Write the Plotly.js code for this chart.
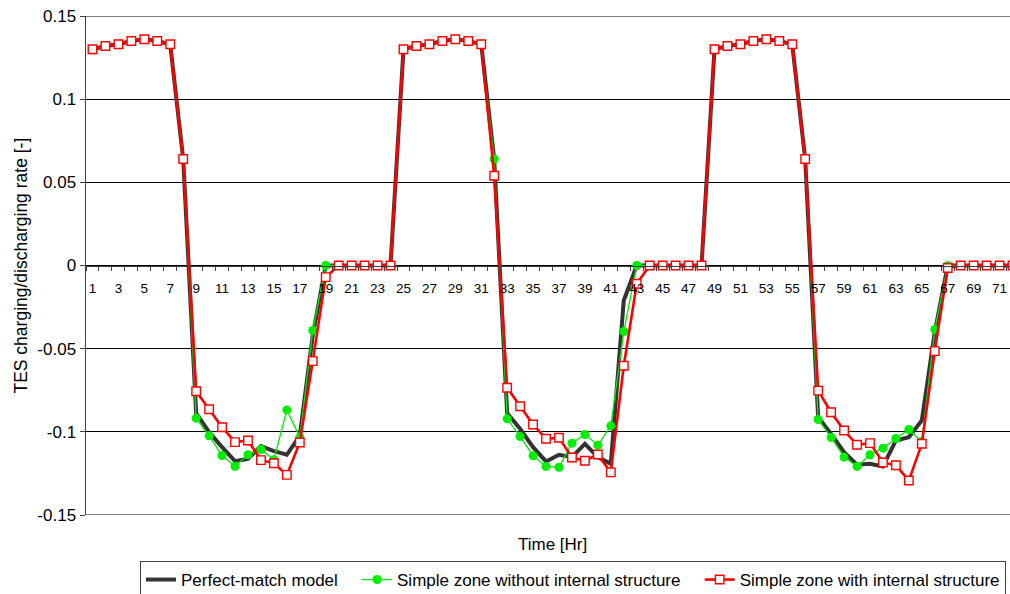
<!DOCTYPE html>
<html>
<head>
<meta charset="utf-8">
<script src="https://cdn.plot.ly/plotly-3.0.1.min.js"></script>
<style>
html,body{margin:0;padding:0;overflow:hidden;background:#fff;}
#chart{width:1030px;height:594px;}
</style>
</head>
<body>
<div id="chart"></div>
<script>
// Hours (categories)
const hours = [1,2,3,4,5,6,7,8,9,10,11,12,13,14,15,16,17,18,19,20,21,22,23,24,
  25,26,27,28,29,30,31,32,33,34,35,36,37,38,39,40,41,42,43,44,45,46,47,48,
  49,50,51,52,53,54,55,56,57,58,59,60,61,62,63,64,65,66,67,68,69,70,71,72];

const tickLabels = [1,3,5,7,9,11,13,15,17,19,21,23,25,27,29,31,33,35,37,39,41,43,45,47,
  49,51,53,55,57,59,61,63,65,67,69,71];

const perfectMatch = [
  0.130,0.132,0.133,0.135,0.136,0.135,0.133,0.064,
  -0.0888,-0.1002,-0.1092,-0.1176,-0.1162,-0.1086,-0.1116,-0.1138,-0.1022,-0.0420,
  0,0,0,0,0,0,
  0.130,0.132,0.133,0.135,0.136,0.135,0.133,0.064,
  -0.0888,-0.0982,-0.1092,-0.1178,-0.1138,-0.1152,-0.1072,-0.1152,-0.1192,-0.0210,
  0,0,0,0,0,0,
  0.130,0.132,0.133,0.135,0.136,0.135,0.133,0.064,
  -0.0912,-0.1012,-0.1122,-0.1198,-0.1192,-0.1208,-0.1052,-0.1032,-0.0932,-0.0400,
  0,0,0,0,0,0];

const zoneWithout = [
  0.130,0.132,0.133,0.135,0.136,0.135,0.133,0.064,
  -0.0918,-0.1024,-0.1142,-0.1207,-0.1138,-0.1106,-0.1168,-0.0868,-0.1032,-0.0391,
  0,0,0,0,0,0,
  0.130,0.132,0.133,0.135,0.136,0.135,0.133,0.064,
  -0.0922,-0.1028,-0.1144,-0.1208,-0.1213,-0.1068,-0.1016,-0.1080,-0.0964,-0.0397,
  0,0,0,0,0,0,
  0.130,0.132,0.133,0.135,0.136,0.135,0.133,0.064,
  -0.0926,-0.1034,-0.1152,-0.1208,-0.1138,-0.1098,-0.1040,-0.0986,-0.1060,-0.0385,
  0,0,0,0,0,0];

const zoneWith = [
  0.130,0.132,0.133,0.135,0.136,0.135,0.133,0.064,
  -0.0756,-0.0864,-0.0972,-0.1062,-0.1052,-0.1170,-0.1189,-0.1259,-0.1064,-0.0575,
  -0.007,0,0,0,0,0,
  0.130,0.132,0.133,0.135,0.136,0.135,0.133,0.054,
  -0.0735,-0.0846,-0.0956,-0.1042,-0.1036,-0.1154,-0.1174,-0.1136,-0.1244,-0.0603,
  -0.011,0,0,0,0,0,
  0.130,0.132,0.133,0.135,0.136,0.135,0.133,0.064,
  -0.0752,-0.0882,-0.0992,-0.1078,-0.1068,-0.1184,-0.1201,-0.1293,-0.1072,-0.0515,
  -0.0015,0,0,0,0,0];

const yTicks = [-0.15,-0.1,-0.05,0,0.05,0.1,0.15];
const yTickText = ['-0.15','-0.1','-0.05','0','0.05','0.1','0.15'];

const seriesNames = ['Perfect-match model','Simple zone without internal structure','Simple zone with internal structure'];

const FONT = '"Liberation Sans", Arial, sans-serif';
const PAD = '\u00a0\u00a0\u00a0'; // legend entry spacing

const traces = [
  {x: hours, y: perfectMatch, name: seriesNames[0] + PAD, type: 'scatter', mode: 'lines',
   line: {color: '#333333', width: 4}},
  {x: hours, y: zoneWithout, name: seriesNames[1] + PAD, type: 'scatter', mode: 'lines+markers',
   line: {color: '#00ee00', width: 1.3}, marker: {symbol: 'circle', size: 9, color: '#00ee00'}},
  {x: hours, y: zoneWith, name: seriesNames[2], type: 'scatter', mode: 'lines+markers',
   line: {color: '#ff0000', width: 2.6},
   marker: {symbol: 'square', size: 8.5, color: '#ffffff', line: {color: '#ff0000', width: 1.4}}}
];

// grid lines at the axis range edges (Plotly skips them)
const edgeLines = [yTicks[0], yTicks[yTicks.length - 1]].map(v => ({
  type: 'line', xref: 'paper', x0: 0, x1: 1, yref: 'y', y0: v, y1: v,
  line: {color: '#000000', width: 1}, layer: 'below'
}));

const layout = {
  width: 1030, height: 594,
  margin: {l: 86, r: 11, t: 16, b: 79},
  paper_bgcolor: '#ffffff', plot_bgcolor: '#ffffff',
  font: {family: FONT, color: '#000000', size: 13},
  showlegend: true,
  xaxis: {
    range: [0.5, 72.5], anchor: 'free', position: 0.5,
    tickmode: 'array', tickvals: tickLabels, ticktext: tickLabels.map(String),
    ticks: 'outside', ticklen: 10, tickcolor: 'rgba(0,0,0,0)',
    tickfont: {family: FONT, size: 13.5, color: '#000'},
    showgrid: false, zeroline: false,
    showline: true, linecolor: '#404040', linewidth: 1.5,
    minor: {tick0: 0.5, dtick: 1, ticks: 'outside', ticklen: 4, tickcolor: '#404040', tickwidth: 1, showgrid: false},
    fixedrange: true
  },
  yaxis: {
    range: [-0.15, 0.15],
    tickmode: 'array', tickvals: yTicks, ticktext: yTickText,
    ticks: 'outside', ticklen: 5, tickcolor: '#404040',
    tickfont: {family: FONT, size: 17, color: '#000'},
    showgrid: true, gridcolor: '#000000', gridwidth: 1,
    zeroline: false, showline: true, linecolor: '#404040', linewidth: 1.5,
    fixedrange: true
  },
  shapes: edgeLines,
  legend: {
    orientation: 'h', xref: 'container', yref: 'container',
    x: 140 / 1030, xanchor: 'left', y: 1 - 561 / 594, yanchor: 'top',
    bordercolor: '#404040', borderwidth: 1, bgcolor: '#ffffff',
    font: {family: FONT, size: 17, color: '#000'},
    traceorder: 'normal'
  },
  annotations: [
    {text: 'TES charging/discharging rate [-]', xref: 'paper', yref: 'paper',
     x: -0.0707, y: 0.5, xanchor: 'center', yanchor: 'middle', textangle: -90,
     showarrow: false, font: {family: FONT, size: 17.5, color: '#000'}},
    {text: 'Time [Hr]', xref: 'paper', yref: 'paper',
     x: 0.5, y: -0.06, xanchor: 'center', yanchor: 'middle',
     showarrow: false, font: {family: FONT, size: 17, color: '#000'}}
  ]
};

Plotly.newPlot('chart', traces, layout, {displayModeBar: false, staticPlot: true});
</script>
</body>
</html>
